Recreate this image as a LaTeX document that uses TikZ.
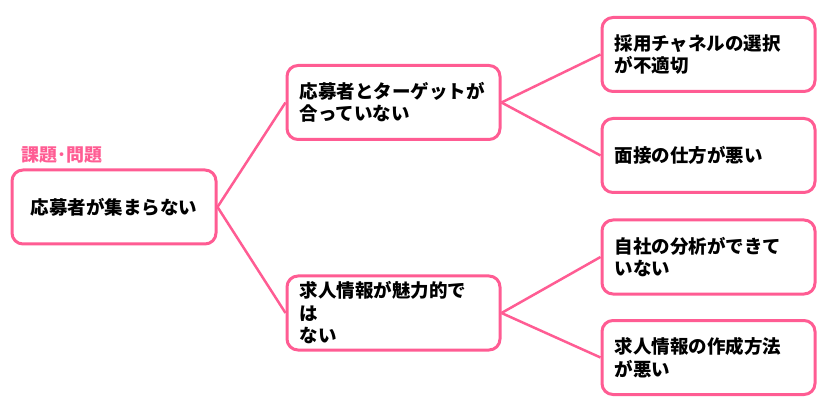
\documentclass[tikz,border=0pt]{standalone}
\usepackage{fontspec}
\setmainfont{Noto Sans CJK JP}
\definecolor{tpink}{RGB}{255,92,147}
\tikzset{
  box/.style={draw=tpink, line width=3pt, rounded corners=11pt, fill=white,
    minimum height=74pt, font=\fontsize{18.5}{22.5}\selectfont\bfseries},
  leafbox/.style={box, text width=188pt, inner xsep=12.5pt, align=left},
  link/.style={draw=tpink, line width=2.5pt},
}
\begin{document}
\begin{tikzpicture}[x=1pt, y=-1pt]
  \useasboundingbox (0, 0) rectangle (834, 419);
  % root
  \node [box, minimum width=204pt, align=center] (root) at (114, 207) {応募者が集まらない};
  \node [anchor=west, text=tpink, inner sep=0pt, font=\fontsize{18}{20}\selectfont\bfseries] (tag) at (21, 155) {課題･問題};
  % middle
  \node [leafbox] (cause1) at (393.5, 102.5) {応募者とターゲットが\\合っていない};
  \node [leafbox] (cause2) at (393.5, 313) {求人情報が魅力的で\\は\\ない};
  % leaves
  \node [leafbox] (leaf1) at (708.5, 54.5) {採用チャネルの選択\\が不適切};
  \node [leafbox] (leaf2) at (708.5, 155.5) {面接の仕方が悪い};
  \node [leafbox] (leaf3) at (708.5, 257) {自社の分析ができて\\いない};
  \node [leafbox] (leaf4) at (708.5, 357.5) {求人情報の作成方法\\が悪い};
  % links
  \draw [link] (root.east) -- (cause1.west);
  \draw [link] (root.east) -- (cause2.west);
  \draw [link] (cause1.east) -- (leaf1.west);
  \draw [link] (cause1.east) -- (leaf2.west);
  \draw [link] (cause2.east) -- (leaf3.west);
  \draw [link] (cause2.east) -- (leaf4.west);
\end{tikzpicture}
\end{document}
